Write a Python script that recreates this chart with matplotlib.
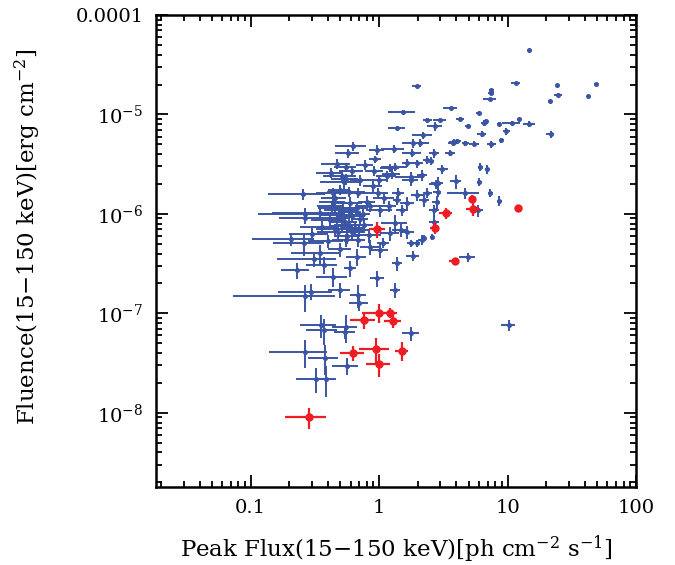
import matplotlib
matplotlib.use("Agg")
import matplotlib.pyplot as plt

# blue sample: peak flux, flux error, fluence, fluence error
blue_x = [14.7, 1.96, 11.6, 24.3, 48.8, 7.48, 7.45, 24.9, 42.0, 7.3,
          21.3, 1.53, 3.61, 5.96, 2.38, 2.98, 4.28, 2.72, 1.38, 4.94,
          6.59, 6.8, 8.59, 10.8, 12.3, 14.8, 9.8, 21.6, 6.3, 8.91,
          7.48, 2.19, 2.08, 1.82, 3.73, 3.84, 4.05, 4.68, 5.5, 1.3,
          0.625, 0.575, 0.964, 0.935, 1.81, 2.68, 3.57, 0.555, 1.34, 1.66,
          1.98, 2.38, 2.53, 3.11, 6.14, 6.92, 0.92, 1.22, 1.26, 1.78,
          2.17, 0.513, 0.555, 0.528, 0.714, 0.99, 1.76, 2.85, 3.95, 6.03,
          7.35, 8.64, 0.257, 0.582, 0.68, 0.98, 1.4, 1.98, 2.38, 2.85,
          4.68, 0.498, 0.455, 0.44, 0.596, 0.805, 1.38, 1.66, 2.23, 2.8,
          2.68, 5.85, 1.02, 0.263, 0.347, 0.265, 0.416, 0.455, 0.498, 0.545,
          0.596, 0.65, 0.714, 0.48, 0.565, 0.68, 0.765, 0.517, 0.62, 0.84,
          1.34, 1.66, 1.22, 0.206, 0.26, 0.347, 0.37, 0.228, 0.44, 0.596,
          0.67, 0.855, 1.02, 1.08, 1.38, 1.76, 1.98, 2.23, 2.58, 1.83,
          0.964, 1.34, 0.263, 0.295, 0.498, 0.69, 0.7, 0.353, 0.37, 0.55,
          0.545, 0.265, 0.38, 0.56, 0.325, 0.385, 10.2, 4.9, 1.78, 2.75,
          2.68, 1.47, 2.16, 0.44,
          0.43, 0.47, 0.58, 0.62, 0.70, 0.52, 0.45, 0.75, 0.67, 0.55,
          0.85, 1.1, 1.2, 0.9, 1.15, 1.5, 0.42, 0.47, 0.62, 0.78,
          0.3, 0.4, 0.36, 0.5, 0.31]
blue_xerr = [0.3, 0.16, 0.9, 0.6, 1.5, 0.3, 0.4, 1.7, 0.8, 0.9,
             0.6, 0.36, 0.45, 0.25, 0.2, 0.35, 0.3, 0.35, 0.2, 0.25,
             0.4, 0.3, 0.3, 1.8, 0.5, 1.5, 0.6, 1.5, 0.5, 0.4,
             0.6, 0.4, 0.35, 0.3, 0.3, 0.35, 0.3, 0.3, 0.5, 0.27,
             0.17, 0.12, 0.13, 0.1, 0.3, 0.25, 0.3, 0.11, 0.3, 0.15,
             0.2, 0.2, 0.15, 0.3, 0.3, 0.3, 0.15, 0.2, 0.2, 0.45,
             0.2, 0.15, 0.13, 0.18, 0.12, 0.15, 0.25, 0.3, 0.4, 0.3,
             0.3, 0.4, 0.12, 0.19, 0.1, 0.2, 0.15, 0.2, 0.2, 0.2,
             1.3, 0.1, 0.1, 0.12, 0.14, 0.12, 0.1, 0.2, 0.2, 0.2,
             0.25, 0.6, 0.23, 0.15, 0.2, 0.1, 0.12, 0.12, 0.15, 0.13,
             0.12, 0.1, 0.11, 0.15, 0.12, 0.1, 0.13, 0.1, 0.14, 0.2,
             0.3, 0.2, 0.2, 0.103, 0.112, 0.14, 0.1, 0.055, 0.12, 0.06,
             0.12, 0.15, 0.15, 0.12, 0.12, 0.1, 0.1, 0.1, 0.1, 0.2,
             0.12, 0.12, 0.19, 0.133, 0.1, 0.1, 0.12, 0.11, 0.1, 0.12,
             0.1, 0.125, 0.1, 0.13, 0.1, 0.08, 1.3, 0.7, 0.27, 0.3,
             0.25, 0.2, 0.15, 0.1,
             0.1, 0.12, 0.1, 0.15, 0.12, 0.15, 0.13, 0.1, 0.12, 0.12,
             0.2, 0.2, 0.15, 0.15, 0.2, 0.15, 0.1, 0.12, 0.13, 0.12,
             0.1, 0.12, 0.12, 0.1, 0.15]
blue_y = [4.43e-5, 1.92e-5, 2.05e-5, 2.0e-5, 2.02e-5, 1.75e-5, 1.65e-5, 1.58e-5, 1.53e-5, 1.42e-5,
          1.37e-5, 1.06e-5, 1.15e-5, 1.04e-5, 8.77e-6, 8.77e-6, 9.0e-6, 7.63e-6, 7.33e-6, 7.65e-6,
          8.24e-6, 8.5e-6, 8.0e-6, 8.24e-6, 8.9e-6, 8.05e-6, 6.75e-6, 6.34e-6, 6.34e-6, 5.48e-6,
          5.04e-6, 6.15e-6, 5.19e-6, 5.12e-6, 5.19e-6, 5.31e-6, 5.35e-6, 5.12e-6, 5.07e-6, 4.5e-6,
          4.81e-6, 4.06e-6, 4.38e-6, 3.56e-6, 4.11e-6, 4.06e-6, 4.11e-6, 2.98e-6, 2.98e-6, 3.27e-6,
          3.22e-6, 3.48e-6, 3.42e-6, 2.81e-6, 2.98e-6, 2.81e-6, 2.72e-6, 2.91e-6, 2.52e-6, 2.36e-6,
          2.45e-6, 2.4e-6, 2.24e-6, 2.1e-6, 2.19e-6, 2.19e-6, 2.19e-6, 2.03e-6, 2.14e-6, 2.1e-6,
          1.63e-6, 1.35e-6, 1.57e-6, 1.67e-6, 1.63e-6, 1.63e-6, 1.63e-6, 1.55e-6, 1.63e-6, 1.67e-6,
          1.61e-6, 1.74e-6, 1.44e-6, 1.61e-6, 1.29e-6, 1.32e-6, 1.38e-6, 1.28e-6, 1.38e-6, 1.32e-6,
          1.09e-6, 1.09e-6, 1.09e-6, 1.01e-6, 1.03e-6, 9.16e-7, 8.69e-7, 1.15e-6, 9.75e-7, 8.3e-7,
          1.05e-6, 7.2e-7, 8.9e-7, 6.58e-7, 6.0e-7, 5.47e-7, 7.7e-7, 7.6e-7, 6.6e-7, 6.1e-7,
          8.05e-7, 6.62e-7, 6.4e-7, 5.6e-7, 5.07e-7, 4.02e-7, 3.07e-7, 2.73e-7, 2.34e-7, 2.84e-7,
          3.72e-7, 4.69e-7, 4.34e-7, 5.1e-7, 3.19e-7, 5.1e-7, 5.1e-7, 5.69e-7, 5.9e-7, 3.8e-7,
          2.26e-7, 1.72e-7, 1.48e-7, 1.66e-7, 1.72e-7, 1.53e-7, 1.26e-7, 7.67e-8, 6.83e-8, 7.37e-8,
          6.47e-8, 4.13e-8, 3.6e-8, 2.99e-8, 2.2e-8, 2.2e-8, 7.6e-8, 3.66e-7, 6.32e-8, 1.99e-6,
          8.36e-7, 6.9e-7, 5.47e-7, 1.32e-6,
          1.2e-6, 9.0e-7, 7.8e-7, 9.5e-7, 6.9e-7, 1.1e-6, 7.0e-7, 1.0e-6, 1.15e-6, 5.5e-7,
          1.2e-6, 1.45e-6, 1.2e-6, 1.9e-6, 2.4e-6, 1.1e-6, 2.6e-6, 3.2e-6, 2.7e-6, 3.1e-6,
          6.3e-7, 5.3e-7, 7.4e-7, 4.4e-7, 3.5e-7]
blue_yerr = [1.0e-6, 0.5e-6, 0.5e-6, 0.4e-6, 0.4e-6, 0.5e-6, 0.8e-6, 0.5e-6, 0.4e-6, 0.4e-6,
             0.4e-6, 0.6e-6, 0.4e-6, 0.5e-6, 0.4e-6, 0.4e-6, 0.4e-6, 0.8e-6, 0.4e-6, 0.4e-6,
             0.6e-6, 0.5e-6, 0.4e-6, 0.4e-6, 0.4e-6, 0.5e-6, 0.5e-6, 0.5e-6, 0.4e-6, 0.3e-6,
             0.4e-6, 0.5e-6, 0.5e-6, 0.5e-6, 0.3e-6, 0.4e-6, 0.3e-6, 0.3e-6, 0.3e-6, 0.4e-6,
             0.5e-6, 0.4e-6, 0.5e-6, 0.3e-6, 0.4e-6, 0.4e-6, 0.3e-6, 0.3e-6, 0.3e-6, 0.3e-6,
             0.3e-6, 0.3e-6, 0.3e-6, 0.3e-6, 0.3e-6, 0.3e-6, 0.3e-6, 0.3e-6, 0.3e-6, 0.3e-6,
             0.3e-6, 0.3e-6, 0.3e-6, 0.3e-6, 0.3e-6, 0.3e-6, 0.3e-6, 0.3e-6, 0.35e-6, 0.2e-6,
             0.15e-6, 0.15e-6, 0.2e-6, 0.2e-6, 0.2e-6, 0.2e-6, 0.2e-6, 0.2e-6, 0.2e-6, 0.2e-6,
             0.2e-6, 0.2e-6, 0.2e-6, 0.2e-6, 0.2e-6, 0.2e-6, 0.15e-6, 0.2e-6, 0.2e-6, 0.2e-6,
             0.15e-6, 0.15e-6, 0.15e-6, 0.15e-6, 0.15e-6, 1.2e-7, 1.2e-7, 1.5e-7, 1.3e-7, 1.2e-7,
             1.5e-7, 1.0e-7, 1.2e-7, 1.0e-7, 1.0e-7, 0.8e-7, 1.2e-7, 1.0e-7, 1.0e-7, 1.0e-7,
             1.6e-7, 1.0e-7, 1.0e-7, 0.8e-7, 1.3e-7, 0.9e-7, 0.6e-7, 0.5e-7, 0.5e-7, 0.5e-7,
             0.7e-7, 0.8e-7, 0.7e-7, 0.6e-7, 0.5e-7, 0.4e-7, 0.4e-7, 0.4e-7, 0.4e-7, 0.4e-7,
             0.4e-7, 0.3e-7, 0.45e-7, 0.3e-7, 0.3e-7, 0.4e-7, 0.2e-7, 2.0e-8, 2.0e-8, 2.3e-8,
             1.0e-8, 1.3e-8, 1.2e-8, 0.6e-8, 0.6e-8, 0.75e-8, 1.0e-8, 0.4e-7, 1.0e-8, 0.2e-6,
             1.4e-7, 1.0e-7, 0.6e-7, 0.2e-6,
             1.6e-7, 1.2e-7, 1.1e-7, 1.3e-7, 1.0e-7, 1.5e-7, 1.0e-7, 1.4e-7, 1.5e-7, 0.8e-7,
             1.6e-7, 1.8e-7, 1.5e-7, 2.4e-7, 3.0e-7, 1.4e-7, 3.2e-7, 3.8e-7, 3.2e-7, 3.6e-7,
             0.9e-7, 0.8e-7, 1.0e-7, 0.7e-7, 0.6e-7]

# red sample
red_x = [5.3, 5.4, 12.0, 3.3, 2.7, 0.97, 3.87, 1.0, 1.21, 0.76, 1.29, 0.63, 0.95, 1.51, 1.0, 0.285]
red_xerr = [0.2, 0.67, 0.0, 0.38, 0.2, 0.14, 0.35, 0.26, 0.17, 0.17, 0.2, 0.13, 0.25, 0.18, 0.21, 0.1]
red_y = [1.41e-6, 1.13e-6, 1.14e-6, 1.02e-6, 7.3e-7, 7.0e-7, 3.38e-7, 1.02e-7, 1.02e-7, 8.6e-8,
         8.3e-8, 4.0e-8, 4.4e-8, 4.23e-8, 3.1e-8, 9.1e-9]
red_yerr = [0.13e-6, 0.18e-6, 0.0, 0.14e-6, 1.0e-7, 1.3e-7, 0.2e-7, 0.22e-7, 0.12e-7, 1.7e-8,
            1.2e-8, 0.7e-8, 1.2e-8, 0.9e-8, 0.8e-8, 2.2e-9]

x_ticks = [0.1, 1, 10, 100]
x_ticklabels = ["0.1", "1", "10", "100"]
y_ticks = [1e-8, 1e-7, 1e-6, 1e-5, 1e-4]
y_ticklabels = [r"$10^{-8}$", r"$10^{-7}$", r"$10^{-6}$", r"$10^{-5}$", "0.0001"]

plt.rcParams["font.family"] = "DejaVu Serif"
plt.rcParams["mathtext.fontset"] = "dejavuserif"

fig = plt.figure(figsize=(6.75, 5.65), dpi=100)
ax = fig.add_axes([0.2311, 0.1381, 0.7111, 0.8354])

ax.errorbar(blue_x, blue_y, xerr=blue_xerr, yerr=blue_yerr, fmt="o", ms=2.6,
            color="#3a55a5", ecolor="#3a55a5", elinewidth=1.4, capsize=0, zorder=2)
ax.errorbar(red_x, red_y, xerr=red_xerr, yerr=red_yerr, fmt="o", ms=5,
            color="#ee1c24", ecolor="#ee1c24", elinewidth=1.6, capsize=0, zorder=3)

ax.set_xscale("log")
ax.set_yscale("log")
ax.set_xlim(0.0183, 100)
ax.set_ylim(1.8e-9, 1e-4)
ax.set_xticks(x_ticks)
ax.set_xticklabels(x_ticklabels)
ax.set_yticks(y_ticks)
ax.set_yticklabels(y_ticklabels)

for s in ax.spines.values():
    s.set_linewidth(1.8)
ax.tick_params(which="both", direction="in", top=True, right=True, width=1.3, labelsize=14)
ax.tick_params(which="major", length=8.5, pad=9)
ax.tick_params(which="minor", length=4.5)

ax.set_xlabel(r"Peak Flux(15$-$150 keV)[ph cm$^{-2}$ s$^{-1}$]", fontsize=16.5)
ax.set_ylabel(r"Fluence(15$-$150 keV)[erg cm$^{-2}$]", fontsize=16.5)
ax.xaxis.set_label_coords(0.5, -0.098)
ax.yaxis.set_label_coords(-0.235, 0.53)

fig.savefig("out.png", dpi=100)
